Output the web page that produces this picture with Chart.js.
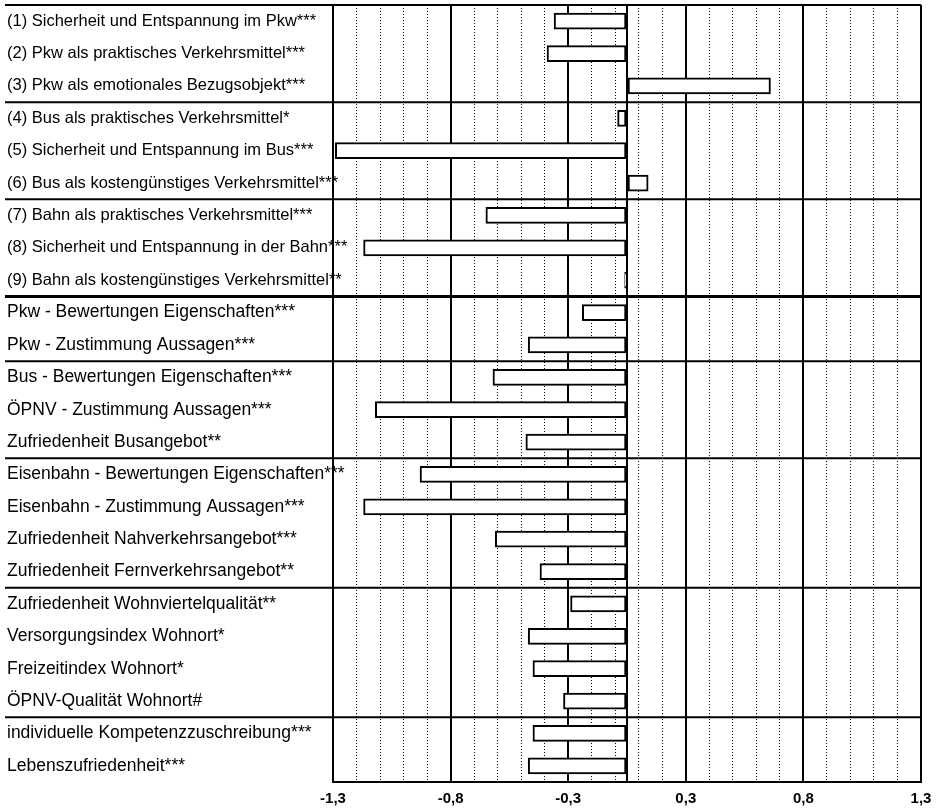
<!DOCTYPE html>
<html>
<head>
<meta charset="utf-8">
<script src="https://cdn.jsdelivr.net/npm/chart.js@4"></script>
<style>
  body { margin: 0; background: #fff; }
</style>
</head>
<body>
<canvas id="myChart" width="943" height="809"></canvas>
<script>
const categories = [
  '(1) Sicherheit und Entspannung im Pkw***',
  '(2) Pkw als praktisches Verkehrsmittel***',
  '(3) Pkw als emotionales Bezugsobjekt***',
  '(4) Bus als praktisches Verkehrsmittel*',
  '(5) Sicherheit und Entspannung im Bus***',
  '(6) Bus als kostengünstiges Verkehrsmittel***',
  '(7) Bahn als praktisches Verkehrsmittel***',
  '(8) Sicherheit und Entspannung in der Bahn***',
  '(9) Bahn als kostengünstiges Verkehrsmittel**',
  'Pkw - Bewertungen Eigenschaften***',
  'Pkw - Zustimmung Aussagen***',
  'Bus - Bewertungen Eigenschaften***',
  'ÖPNV - Zustimmung Aussagen***',
  'Zufriedenheit Busangebot**',
  'Eisenbahn - Bewertungen Eigenschaften***',
  'Eisenbahn - Zustimmung Aussagen***',
  'Zufriedenheit Nahverkehrsangebot***',
  'Zufriedenheit Fernverkehrsangebot**',
  'Zufriedenheit Wohnviertelqualität**',
  'Versorgungsindex Wohnort*',
  'Freizeitindex Wohnort*',
  'ÖPNV-Qualität Wohnort#',
  'individuelle Kompetenzzuschreibung***',
  'Lebenszufriedenheit***'
];
const values = [
  -0.31, -0.34, 0.61,
  -0.04, -1.24, 0.09,
  -0.60, -1.12, -0.01,
  -0.19, -0.42,
  -0.57, -1.07, -0.43,
  -0.88, -1.12, -0.56, -0.37,
  -0.24, -0.42, -0.40, -0.27,
  -0.40, -0.42
];
const groupSizes = [3, 3, 3, 2, 3, 4, 4, 2];
const majorTicks = [-1.25, -0.75, -0.25, 0.25, 0.75, 1.25];
const tickLabels = ['-1,3', '-0,8', '-0,3', '0,3', '0,8', '1,3'];
const gridStep = 0.1;

const gridValues = [];
for (let k = 0; k <= 25; k++) gridValues.push(Math.round((-1.25 + k * gridStep) * 100) / 100);
gridValues.push(0);
gridValues.sort((a, b) => a - b);

const isSolid = v => v === 0 || majorTicks.some(m => Math.abs(m - v) < 1e-6);

// group separators + top frame line
const groupLines = {
  id: 'groupLines',
  afterDraw(chart) {
    const { ctx, chartArea, scales: { y } } = chart;
    ctx.save();
    ctx.strokeStyle = '#000';
    ctx.lineWidth = 2;
    ctx.beginPath();
    ctx.moveTo(5, chartArea.top);
    ctx.lineTo(chartArea.right, chartArea.top);
    ctx.stroke();
    let row = 0;
    groupSizes.slice(0, -1).forEach((n, i) => {
      row += n;
      const yPos = (y.getPixelForValue(row - 1) + y.getPixelForValue(row)) / 2;
      ctx.lineWidth = i === 2 ? 3 : 2;
      ctx.beginPath();
      ctx.moveTo(5, yPos);
      ctx.lineTo(chartArea.right, yPos);
      ctx.stroke();
    });
    ctx.restore();
  }
};

const ctx = document.getElementById('myChart').getContext('2d');
new Chart(ctx, {
  type: 'bar',
  data: {
    labels: categories,
    datasets: [
      {
        data: values,
        backgroundColor: '#fff',
        borderColor: '#000',
        borderWidth: 2,
        borderSkipped: false,
        barThickness: 16,
      },
    ],
  },
  options: {
    indexAxis: 'y',
    responsive: false,
    animation: false,
    layout: { padding: { left: 7, right: 22, top: 5, bottom: 0 } },
    plugins: { legend: { display: false }, tooltip: { enabled: false } },
    scales: {
      x: {
        min: -1.25,
        max: 1.25,
        afterBuildTicks: scale => { scale.ticks = gridValues.map(v => ({ value: v })); },
        afterFit: scale => {
          scale.height = 27;
          scale.paddingLeft = 0;
          scale.paddingRight = 0;
        },
        grid: {
          color: '#000',
          lineWidth: c => (c.tick && isSolid(c.tick.value)) ? 2 : 1,
          drawTicks: false,
        },
        border: {
          display: true,
          color: '#000',
          width: 2,
          dash: c => (c.tick && !isSolid(c.tick.value)) ? [1, 2] : [],
        },
        ticks: {
          autoSkip: false,
          maxRotation: 0,
          padding: 8,
          color: '#000',
          font: { family: 'Liberation Sans', size: 15, weight: 'bold' },
          callback: value => {
            const i = majorTicks.findIndex(m => Math.abs(m - value) < 1e-6);
            return i >= 0 ? tickLabels[i] : '';
          },
        },
      },
      y: {
        afterFit: scale => {
          scale.width = 326;
          scale.paddingTop = 0;
          scale.paddingBottom = 0;
          // long labels run a little past the axis line, as in the original
          scale._computeLabelArea = () => undefined;
        },
        grid: { display: false },
        border: { display: true, color: '#000', width: 2 },
        ticks: {
          autoSkip: false,
          crossAlign: 'far',
          color: '#000',
          font: c => ({ family: 'Liberation Sans', size: c.index < 9 ? 16.5 : 17.5 }),
        },
      },
    },
  },
  plugins: [groupLines],
});
</script>
</body>
</html>
